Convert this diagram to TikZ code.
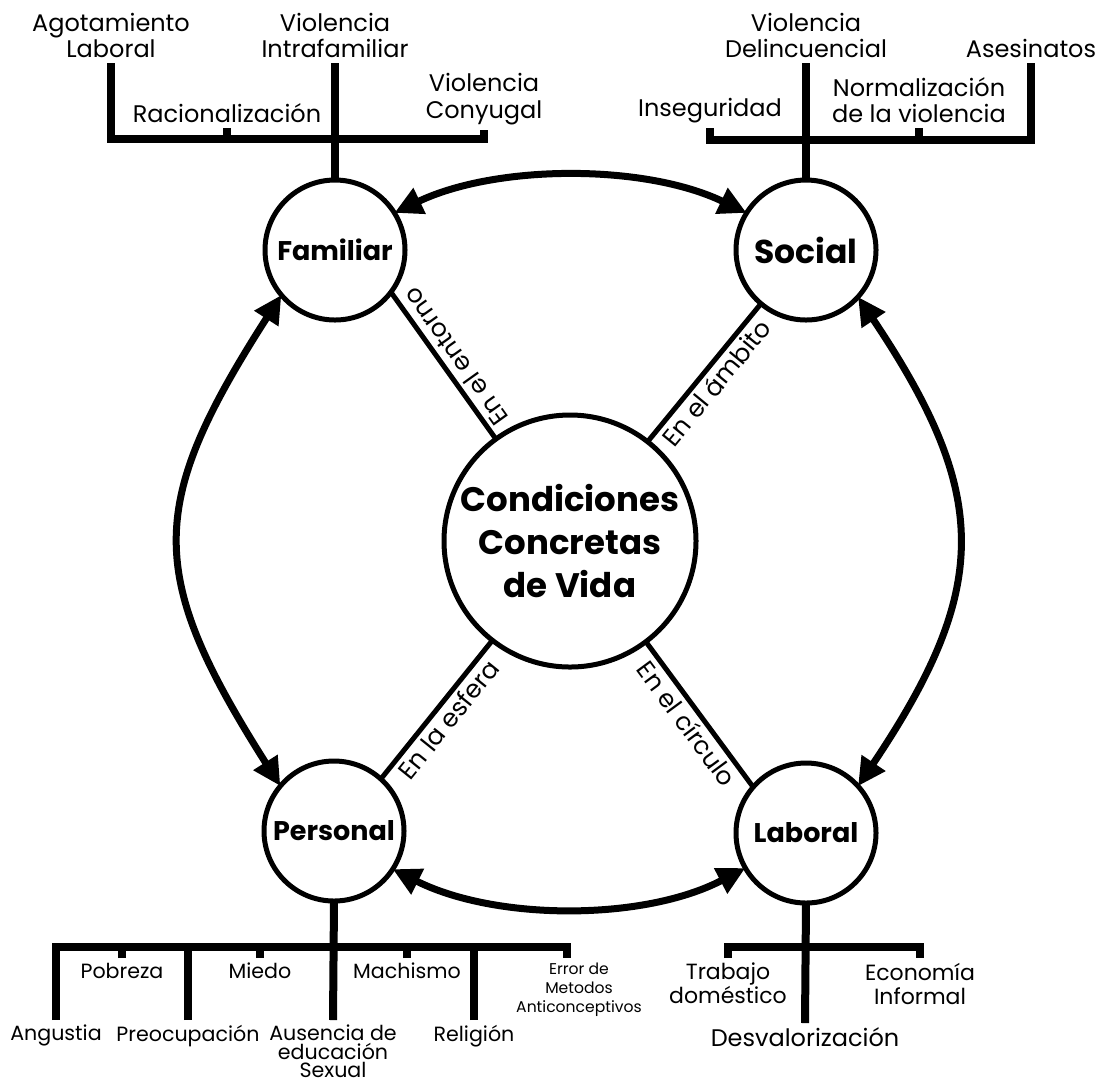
\documentclass[tikz,border=0pt]{standalone}
\usepackage{fontspec}
\setmainfont{Poppins}
\usetikzlibrary{arrows.meta}
\begin{document}
\begin{tikzpicture}[x=0.5pt,y=0.5pt,
  circ/.style={circle,draw,line width=2.5pt,inner sep=0pt,outer sep=0pt,minimum size=70pt,font=\bfseries\fontsize{13.5}{15}\selectfont},
  maincirc/.style={circ,minimum size=126pt,align=center,font=\bfseries\fontsize{17}{21.5}\selectfont},
  tree/.style={line width=4pt,line join=miter},
  spoke/.style={line width=2.5pt},
  spokelab/.style={sloped,allow upside down,anchor=north,inner sep=1.5pt,font=\fontsize{12.5}{14}\selectfont},
  biarrow/.style={line width=3.5pt,{Triangle[length=14pt,width=13.5pt]}-{Triangle[length=14pt,width=13.5pt]}},
  lab/.style={align=center,inner sep=0pt,outer sep=2.5pt,font=\fontsize{12}{13.3}\selectfont},
  labs/.style={lab,font=\fontsize{10.3}{9.3}\selectfont},
  labxs/.style={lab,font=\fontsize{7.8}{9.5}\selectfont},
  labm/.style={lab,font=\fontsize{11}{12}\selectfont},
]
\useasboundingbox (0,0) rectangle (1107,-1084);

% circles
\node[maincirc] (main) at (570,-541) {Condiciones\\Concretas\\de Vida};
\node[circ] (fam) at (335,-250) {Familiar};
\node[circ,font=\bfseries\fontsize{16.5}{18}\selectfont] (soc) at (806,-250) {Social};
\node[circ] (pers) at (334,-831) {Personal};
\node[circ] (labo) at (806,-833) {Laboral};

% spokes
\draw[spoke] (main.126) -- node[spokelab] {En el entorno} (fam.-37);
\draw[spoke] (main.52) -- node[spokelab] {En el ámbito} (soc.230);
\draw[spoke] (pers.48) -- node[spokelab] {En la esfera} (main.232);
\draw[spoke] (main.-53) -- node[spokelab] {En el círculo} (labo.139);

% curved arrows
\draw[biarrow] (fam.32) .. controls (497,-164) and (645,-164) .. (soc.148);
\draw[biarrow] (fam.220) .. controls (146,-506) and (146,-574) .. (pers.140);
\draw[biarrow] (soc.-42) .. controls (991,-495) and (991,-588) .. (labo.42);
\draw[biarrow] (pers.-33) .. controls (496,-921) and (644,-921) .. (labo.210);

% Familiar tree
\node[lab,anchor=south] (t1) at (111,-63) {Agotamiento\\Laboral};
\node[lab,anchor=south] (t2) at (335,-63) {Violencia\\Intrafamiliar};
\node[lab,anchor=south] (t3) at (227,-128) {Racionalización};
\node[lab,anchor=south] (t4) at (484,-130) {Violencia\\Conyugal};
\coordinate (fb) at (0,-139);
\draw[tree] (fam.north) -- (t2.south);
\draw[tree] (t1.south) -- (t1.south |- fb) -- (t4.south |- fb) -- (t4.south);
\draw[tree] (t3.south) -- (t3.south |- fb);

% Social tree
\node[lab,anchor=south] (t5) at (806,-63) {Violencia\\Delincuencial};
\node[lab,anchor=south] (t6) at (710,-128) {Inseguridad};
\node[lab,anchor=south] (t7) at (919,-128) {Normalización\\de la violencia};
\node[lab,anchor=south] (t8) at (1031,-63) {Asesinatos};
\coordinate (sb) at (0,-140);
\draw[tree] (soc.north) -- (t5.south);
\draw[tree] (t6.south) -- (t6.south |- sb) -- (t8.south |- sb) -- (t8.south);
\draw[tree] (t7.south) -- (t7.south |- sb);

% Personal tree
\node[labs,anchor=north] (b1) at (56,-1020) {Angustia};
\node[labs,anchor=north] (b2) at (188,-1020) {Preocupación};
\node[labs,anchor=north] (b3) at (333,-1020) {Ausencia de\\educación\\Sexual};
\node[labs,anchor=north] (b4) at (474,-1020) {Religión};
\node[labs,anchor=north] (b5) at (122,-958) {Pobreza};
\node[labs,anchor=north] (b6) at (260,-958) {Miedo};
\node[labs,anchor=north] (b7) at (407,-958) {Machismo};
\node[labxs,anchor=north] (b8) at (579,-958) {Error de\\Metodos\\Anticonceptivos};
\coordinate (pb) at (0,-947);
\coordinate (e8) at (567,-958);
\draw[tree] (pers.south) -- (b3.north);
\draw[tree] (b1.north) -- (b1.north |- pb) -- (e8 |- pb) -- (e8);
\draw[tree] (b2.north) -- (b2.north |- pb);
\draw[tree] (b4.north) -- (b4.north |- pb);
\draw[tree] (b5.north) -- (b5.north |- pb);
\draw[tree] (b6.north) -- (b6.north |- pb);
\draw[tree] (b7.north) -- (b7.north |- pb);

% Laboral tree
\node[labm,anchor=north] (r1) at (728,-958) {Trabajo\\doméstico};
\node[labm,anchor=north] (r2) at (920,-958) {Economía\\Informal};
\node[lab,anchor=north] (r3) at (805,-1023) {Desvalorización};
\coordinate (lb) at (0,-947);
\draw[tree] (labo.south) -- (r3.north);
\draw[tree] (r1.north) -- (r1.north |- lb) -- (r2.north |- lb) -- (r2.north);
\end{tikzpicture}
\end{document}
